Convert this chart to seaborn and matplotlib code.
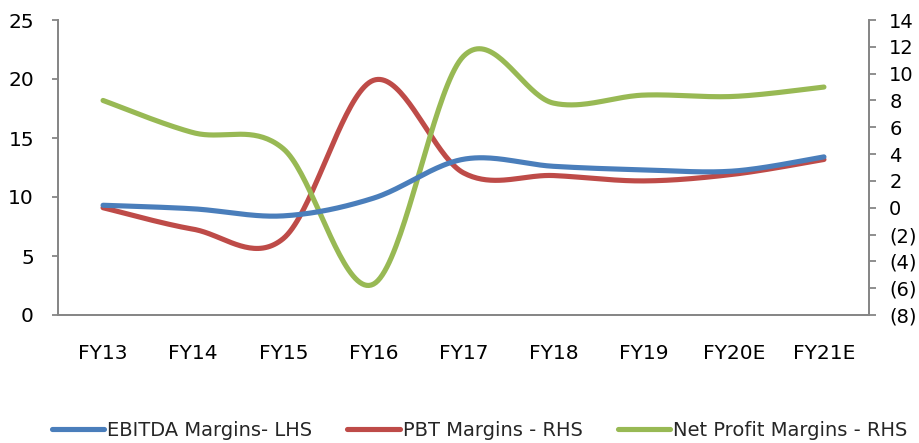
import numpy as np
import pandas as pd
import matplotlib
matplotlib.use("Agg")
import matplotlib.pyplot as plt
from matplotlib.lines import Line2D
from matplotlib.ticker import FixedLocator, FuncFormatter
import seaborn as sns

# Margin data (%)
years = ["FY13", "FY14", "FY15", "FY16", "FY17", "FY18", "FY19", "FY20E", "FY21E"]
ebitda_margin = [9.3, 9.0, 8.4, 9.9, 13.2, 12.6, 12.3, 12.2, 13.4]
pbt_margin = [0.0, -1.6, -2.3, 9.5, 2.6, 2.4, 2.0, 2.5, 3.6]
net_profit_margin = [8.0, 5.6, 4.4, -5.7, 11.3, 7.8, 8.4, 8.3, 9.0]

series_names = ["EBITDA Margins- LHS", "PBT Margins - RHS", "Net Profit Margins - RHS"]
colors = ["#4A7EBB", "#BE4B48", "#98B954"]


def smooth_curve(values, steps=40):
    """Cubic Bezier smoothing through each point (spreadsheet-style smoothed line)."""
    x = np.arange(len(values), dtype=float)
    y = np.asarray(values, dtype=float)
    n = len(y)
    xs, ys = [], []
    for i in range(n - 1):
        i0, i3 = max(i - 1, 0), min(i + 2, n - 1)
        p0 = np.array([x[i], y[i]])
        p3 = np.array([x[i + 1], y[i + 1]])
        c1 = p0 + (np.array([x[i + 1], y[i + 1]]) - np.array([x[i0], y[i0]])) / 6
        c2 = p3 - (np.array([x[i3], y[i3]]) - np.array([x[i], y[i]])) / 6
        t = np.linspace(0, 1, steps, endpoint=(i == n - 2))[:, None]
        pts = ((1 - t) ** 3) * p0 + 3 * ((1 - t) ** 2) * t * c1 + 3 * (1 - t) * t ** 2 * c2 + t ** 3 * p3
        xs.append(pts[:, 0])
        ys.append(pts[:, 1])
    return np.concatenate(xs), np.concatenate(ys)


def curve_frame(values, name):
    cx, cy = smooth_curve(values)
    return pd.DataFrame({"pos": cx, "value": cy, "series": name})


sns.set_style("white")
plt.rcParams["font.family"] = ["DejaVu Sans"]

fig = plt.figure(figsize=(9.19, 4.43), dpi=100)
ax = fig.add_axes([58 / 919, 1 - 315 / 443, (869 - 58) / 919, (315 - 20) / 443])
ax2 = ax.twinx()

lw = 3.7
left_df = curve_frame(ebitda_margin, series_names[0])
sns.lineplot(data=left_df, x="pos", y="value", ax=ax, color=colors[0], lw=lw,
             sort=False, estimator=None, legend=False, solid_capstyle="round")
for vals, name, col in [(pbt_margin, series_names[1], colors[1]),
                        (net_profit_margin, series_names[2], colors[2])]:
    sns.lineplot(data=curve_frame(vals, name), x="pos", y="value", ax=ax2, color=col, lw=lw,
                 sort=False, estimator=None, legend=False, solid_capstyle="round")

# Bring the left-axis series above the right-axis ones where they overlap
ax.set_zorder(ax2.get_zorder() + 1)
ax.patch.set_visible(False)

spine_col = "#868686"
ax.set_xlim(-0.5, len(years) - 0.5)
ax.set_ylim(0, 25)
ax2.set_ylim(-8, 14)
ax.set_yticks(np.arange(0, 26, 5))
ax2.set_yticks(np.arange(-8, 15, 2))
ax2.yaxis.set_major_formatter(FuncFormatter(lambda v, p: f"({abs(int(v))})" if v < 0 else f"{int(v)}"))

ax.set_xticks(range(len(years)))
ax.set_xticklabels(years)
ax.xaxis.set_minor_locator(FixedLocator(np.arange(-0.5, len(years), 1.0)))
ax.tick_params(axis="x", which="major", length=0, pad=21, labelsize=14.5, colors="black")
ax.tick_params(axis="x", which="minor", length=5, width=1.3, color=spine_col, direction="out")
ax.tick_params(axis="y", length=4.3, width=1.3, color=spine_col, direction="out", pad=13,
               labelsize=14.5, labelcolor="black", left=True)
ax2.tick_params(axis="y", length=5, width=1.3, color=spine_col, direction="out", pad=9.5,
                labelsize=14, labelcolor="black", right=True)
ax.set_xlabel("")
ax.set_ylabel("")
ax2.set_ylabel("")

for a in (ax, ax2):
    a.grid(False)
    a.spines["top"].set_visible(False)
    for s in ("left", "right", "bottom"):
        a.spines[s].set_color(spine_col)
        a.spines[s].set_linewidth(1.3)

handles = [Line2D([0], [0], color=c, lw=lw, solid_capstyle="round") for c in colors]
fig.legend(handles, series_names, loc="center", bbox_to_anchor=(0.522, 1 - 430 / 443),
           ncol=3, frameon=False, fontsize=14, handlelength=2.7, handletextpad=0.15,
           columnspacing=1.8, borderaxespad=0)

fig.savefig("out.png", dpi=100)
